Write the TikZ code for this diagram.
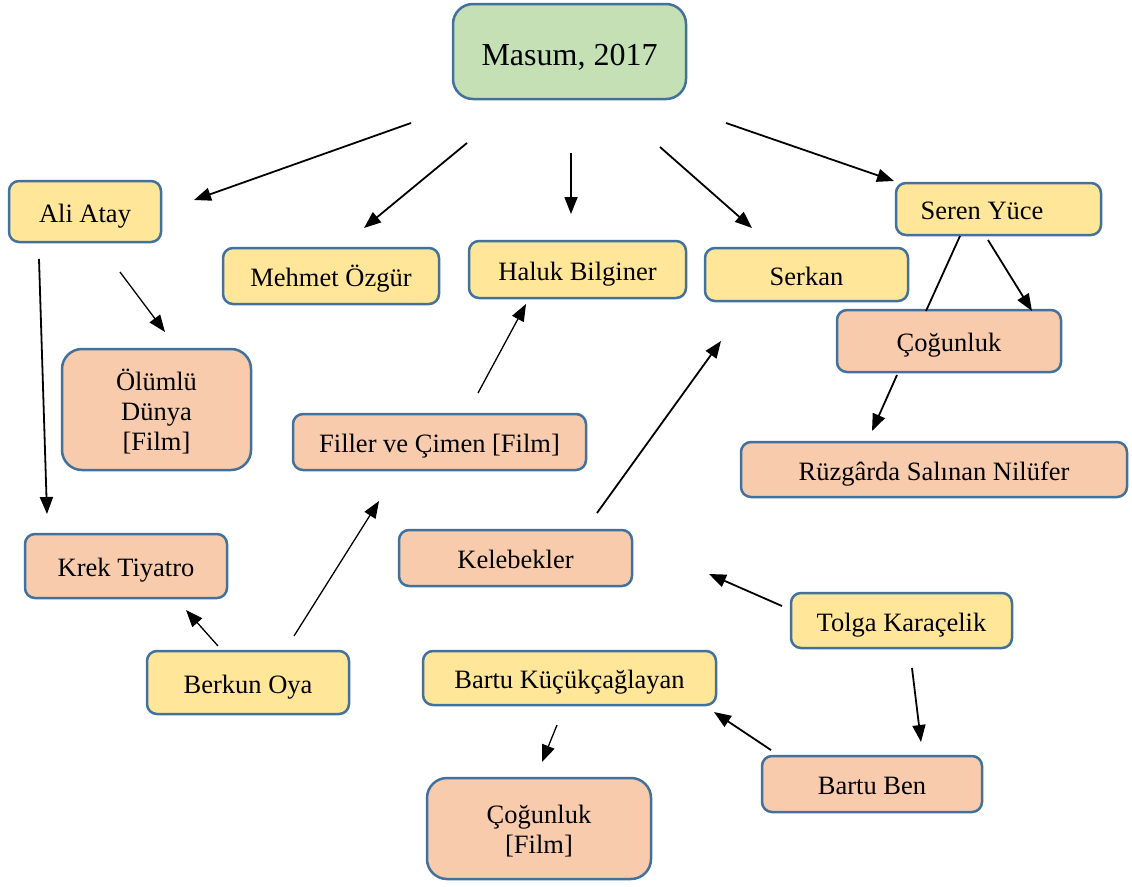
\documentclass[tikz,border=0pt]{standalone}
\usepackage{fontspec}
\setmainfont{Liberation Serif}
\usetikzlibrary{arrows.meta}
\definecolor{bordc}{HTML}{41719C}
\definecolor{yelc}{HTML}{FFE699}
\definecolor{peac}{HTML}{F8CBAD}
\definecolor{grnc}{HTML}{C5E0B4}
\tikzset{
  box/.style={draw=bordc, line width=2.5pt, rounded corners=10pt, inner sep=0pt, align=center,
    font=\fontsize{26.5}{30}\selectfont, text height=24pt, text depth=3pt},
  ybox/.style={box, fill=yelc},
  pbox/.style={box, fill=peac},
  bigr/.style={rounded corners=20pt},
  arr/.style={line width=1.8pt, -{Triangle[length=17pt,width=13pt]}},
  plain/.style={line width=1.8pt}
}
\begin{document}
\begin{tikzpicture}[x=1pt,y=-1pt]
\useasboundingbox (0,0) rectangle (1132,886);
\node[box, bigr, fill=grnc, minimum width=233pt, minimum height=95pt, font=\fontsize{32}{36}\selectfont, text height=30pt, text depth=3pt] (masum) at (569.5,51.5) {Masum, 2017};
\node[ybox, minimum width=152pt, minimum height=61pt] (ali) at (85,211.5) {Ali Atay};
\node[ybox, minimum width=216pt, minimum height=56pt] (mehmet) at (331,276) {Mehmet Özgür};
\node[ybox, minimum width=217pt, minimum height=57pt] (haluk) at (577.5,269.5) {Haluk Bilginer};
\node[ybox, minimum width=203pt, minimum height=53pt] (serkan) at (806.5,274.5) {Serkan};
\node[ybox, minimum width=205pt, minimum height=52pt] (seren) at (998.5,209) {Seren Yüce\hspace*{33pt}};
\node[pbox, minimum width=224pt, minimum height=62pt] (cogunluk) at (949,341) {Çoğunluk};
\node[pbox, bigr, minimum width=189pt, minimum height=121pt, font=\fontsize{26.5}{30}\selectfont, text height=85pt, text depth=4pt] (olumlu) at (156.5,409.5) {Ölümlü\\Dünya\\{[}Film{]}};
\node[pbox, minimum width=293pt, minimum height=56pt] (filler) at (439.5,442) {Filler ve Çimen [Film]};
\node[pbox, minimum width=386pt, minimum height=55pt] (ruzgar) at (934,469.5) {Rüzgârda Salınan Nilüfer};
\node[pbox, minimum width=202pt, minimum height=64pt] (krek) at (126,566) {Krek Tiyatro};
\node[pbox, minimum width=233pt, minimum height=56pt] (kelebek) at (515.5,558) {Kelebekler};
\node[ybox, minimum width=221pt, minimum height=55pt] (tolga) at (901.5,620.5) {Tolga Karaçelik};
\node[ybox, minimum width=202pt, minimum height=63pt] (berkun) at (248,682.5) {Berkun Oya};
\node[ybox, minimum width=293pt, minimum height=54pt] (bartuk) at (569.5,678) {Bartu Küçükçağlayan};
\node[pbox, minimum width=220pt, minimum height=56pt] (bartuben) at (872,784) {Bartu Ben};
\node[pbox, bigr, minimum width=224pt, minimum height=101pt, font=\fontsize{26.5}{30}\selectfont, text height=52pt, text depth=3pt] (cogfilm) at (539,828.5) {Çoğunluk\\{[}Film{]}};
% arrow end points
\coordinate (m1s) at (411,123); \coordinate (m1e) at (194,200);
\coordinate (m2s) at (467,143); \coordinate (m2e) at (364,228);
\coordinate (m3s) at (571,153); \coordinate (m3e) at (571,214);
\coordinate (m4s) at (660,147); \coordinate (m4e) at (752,228);
\coordinate (m5s) at (726,123); \coordinate (m5e) at (894,181);
\coordinate (s1s) at (960,236); \coordinate (s1e) at (926,311);
\coordinate (s2s) at (988,240); \coordinate (s2e) at (1032,311);
\coordinate (c1s) at (897,375); \coordinate (c1e) at (872,431);
\coordinate (a1s) at (120,272); \coordinate (a1e) at (165,332);
\coordinate (a2s) at (39,259); \coordinate (a2e) at (47,514);
\coordinate (f1s) at (478,393); \coordinate (f1e) at (526,304);
\coordinate (k1s) at (597,513); \coordinate (k1e) at (721,341);
\coordinate (b1s) at (218,646); \coordinate (b1e) at (186,610);
\coordinate (b2s) at (294,636); \coordinate (b2e) at (379,501);
\coordinate (t1s) at (782,606); \coordinate (t1e) at (709,574);
\coordinate (t2s) at (912,668); \coordinate (t2e) at (921,742);
\coordinate (bb1s) at (771,750); \coordinate (bb1e) at (714,712);
\coordinate (bk1s) at (557,725); \coordinate (bk1e) at (542,762);
\draw[arr] (m1s) -- (m1e);
\draw[arr] (m2s) -- (m2e);
\draw[arr] (m3s) -- (m3e);
\draw[arr] (m4s) -- (m4e);
\draw[arr] (m5s) -- (m5e);
\draw[plain] (s1s) -- (s1e);
\draw[arr] (s2s) -- (s2e);
\draw[arr] (c1s) -- (c1e);
\draw[arr, line width=1.3pt] (a1s) -- (a1e);
\draw[arr] (a2s) -- (a2e);
\draw[arr, line width=1.3pt] (f1s) -- (f1e);
\draw[arr] (k1s) -- (k1e);
\draw[arr, line width=1.3pt] (b1s) -- (b1e);
\draw[arr, line width=1.3pt] (b2s) -- (b2e);
\draw[arr] (t1s) -- (t1e);
\draw[arr] (t2s) -- (t2e);
\draw[arr] (bb1s) -- (bb1e);
\draw[arr, line width=1.3pt] (bk1s) -- (bk1e);
\end{tikzpicture}
\end{document}
